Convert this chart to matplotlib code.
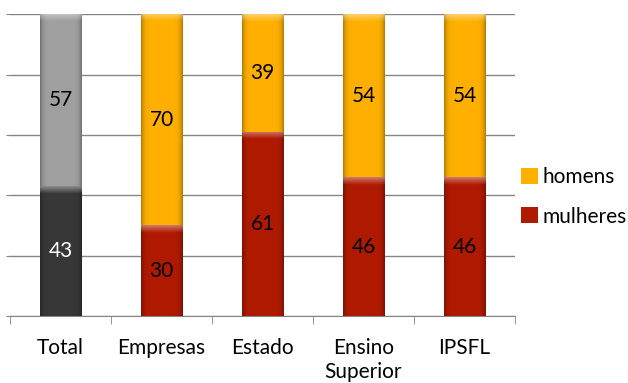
import numpy as np
import matplotlib
matplotlib.use("Agg")
import matplotlib.pyplot as plt
from matplotlib.colors import to_rgb

categories = ["Total", "Empresas", "Estado", "Ensino\nSuperior", "IPSFL"]
mulheres = [43, 30, 61, 46, 46]
homens = [57, 70, 39, 54, 54]

COL_H = "#FFB000"
COL_M = "#B01A00"
COL_TOTAL_TOP = "#A0A0A0"
COL_TOTAL_BOT = "#383838"

plt.rcParams["font.family"] = ["Lato", "DejaVu Sans"]

W = 0.41
FS = 15


def bevel(ax, x, y0, h, color):
    """Gradiente simples por cima do segmento: bordas laterais escuras, topo claro."""
    base = np.array(to_rgb(color))
    nx, ny = 60, max(int(h * 3), 4)
    tx = np.linspace(-1, 1, nx)
    side = 1 - 0.3 * np.abs(tx) ** 8
    ty = np.linspace(h, 0, ny)  # distância até ao topo em unidades de dados
    top = np.clip(1 - (h - ty) / 2.4, 0, 1)[:, None]
    img = base[None, None, :] * side[None, :, None]
    img = img * (1 - 0.4 * top[..., None]) + 0.4 * top[..., None]
    img = np.clip(img, 0, 1)
    ax.imshow(img, extent=[x - W / 2, x + W / 2, y0, y0 + h],
              aspect="auto", interpolation="bilinear", zorder=3)


fig = plt.figure(figsize=(6.28, 3.83), dpi=100)
ax = fig.add_axes([0.016, 0.175, 0.804, 0.788])

x = np.arange(len(categories))
bot_cols = [COL_TOTAL_BOT] + [COL_M] * (len(x) - 1)
top_cols = [COL_TOTAL_TOP] + [COL_H] * (len(x) - 1)

ax.bar(x[1:], mulheres[1:], W, color=COL_M, label="mulheres", zorder=2)
ax.bar(x[1:], homens[1:], W, bottom=mulheres[1:], color=COL_H,
       label="homens", zorder=2)
ax.bar(x[:1], mulheres[:1], W, color=COL_TOTAL_BOT, zorder=2)
ax.bar(x[:1], homens[:1], W, bottom=mulheres[:1], color=COL_TOTAL_TOP, zorder=2)

for i in x:
    bevel(ax, i, 0, mulheres[i], bot_cols[i])
    bevel(ax, i, mulheres[i], homens[i], top_cols[i])
    ax.text(i, mulheres[i] / 2, str(mulheres[i]), ha="center", va="center",
            fontsize=FS, color="white" if i == 0 else "black", zorder=5)
    ax.text(i, mulheres[i] + homens[i] / 2, str(homens[i]), ha="center",
            va="center", fontsize=FS, color="black", zorder=5)

ax.set_xlim(-0.5, len(x) - 0.5)
ax.set_ylim(0, 100)
ax.set_yticks(np.arange(0, 101, 20))
ax.set_yticklabels([])
ax.tick_params(axis="y", length=3, color="#868686")
ax.grid(axis="y", color="#868686", linewidth=1, zorder=0)

ax.set_xticks(x)
ax.set_xticklabels(categories, fontsize=FS, linespacing=1.25)
ax.tick_params(axis="x", length=0, pad=16)
ax.set_xticks(np.arange(-0.5, len(x), 1), minor=True)
ax.tick_params(axis="x", which="minor", length=6, color="#868686")

for s in ["top", "right", "left"]:
    ax.spines[s].set_visible(False)
ax.spines["bottom"].set_color("#868686")

h, l = ax.get_legend_handles_labels()
ax.legend(h[::-1], l[::-1], loc="center left", bbox_to_anchor=(1.0, 0.395),
          frameon=False, fontsize=FS, handlelength=0.8, handleheight=0.8,
          handletextpad=0.2, labelspacing=0.95, borderaxespad=0,
          borderpad=0.3)

fig.savefig("out.png", dpi=100)
